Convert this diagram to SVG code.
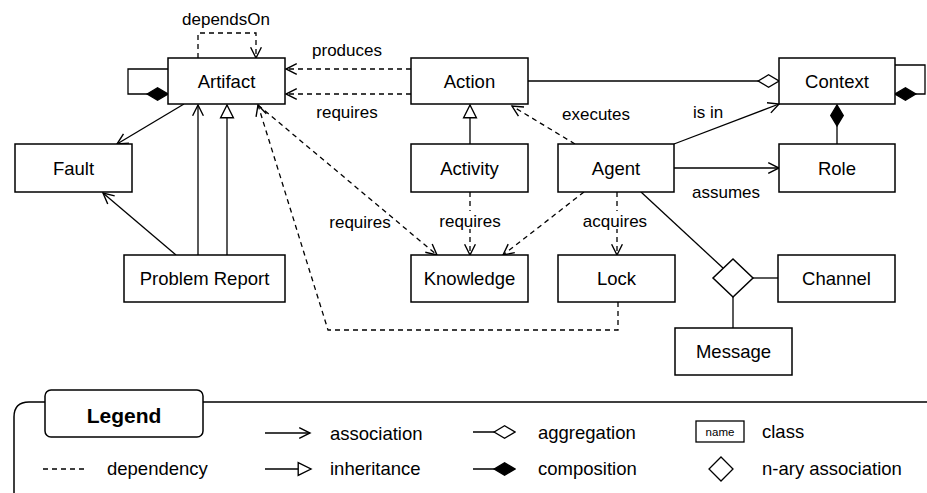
<svg xmlns="http://www.w3.org/2000/svg" width="927" height="493" viewBox="0 0 927 493">
<style>
.box{fill:#fff;stroke:#000;stroke-width:1.5}
.nt{font-family:"Liberation Sans",Arial,sans-serif;font-size:18.5px;text-anchor:middle;fill:#000}
.lb{font-family:"Liberation Sans",Arial,sans-serif;font-size:17px;text-anchor:middle;fill:#000}
.lt{font-family:"Liberation Sans",Arial,sans-serif;font-size:18.5px;fill:#000}
.ln{fill:none;stroke:#000;stroke-width:1.3}
.dl{fill:none;stroke:#000;stroke-width:1.3;stroke-dasharray:5,4}
</style>
<defs>
<marker id="arr" markerUnits="userSpaceOnUse" markerWidth="14" markerHeight="14" viewBox="-1 -1 13 12" refX="10" refY="5" orient="auto"><path d="M0,0 L10,5 L0,10" fill="none" stroke="#000" stroke-width="1.3"/></marker>
<marker id="tri" markerUnits="userSpaceOnUse" markerWidth="16" markerHeight="16" viewBox="-1 -1 15 14" refX="12" refY="6" orient="auto"><path d="M0,0 L12,6 L0,12 z" fill="#fff" stroke="#000" stroke-width="1.3"/></marker>
<marker id="dia" markerUnits="userSpaceOnUse" markerWidth="24" markerHeight="16" viewBox="-1 -1 23 14" refX="21" refY="6" orient="auto"><path d="M1,6 L11,0 L21,6 L11,12 z" fill="#fff" stroke="#000" stroke-width="1.3"/></marker>
<marker id="comp" markerUnits="userSpaceOnUse" markerWidth="24" markerHeight="16" viewBox="-1 -1 23 14" refX="21" refY="6" orient="auto"><path d="M1,6 L11,0 L21,6 L11,12 z" fill="#000" stroke="#000" stroke-width="1.3"/></marker>
</defs>

<g id="connectors">
<!-- Artifact self composition -->
<path class="ln" d="M168,69 L128,69 L128,94 L168,94" marker-end="url(#comp)"/>
<!-- dependsOn -->
<path class="dl" d="M198,58 L198,33 L256,33 L256,58" marker-end="url(#arr)"/>
<text class="lb" x="226" y="25">dependsOn</text>
<!-- Artifact -> Fault -->
<path class="ln" d="M184,104 L117,144" marker-end="url(#arr)"/>
<!-- Problem Report -> Fault -->
<path class="ln" d="M176,255 L103,193" marker-end="url(#arr)"/>
<!-- Problem Report -> Artifact association -->
<path class="ln" d="M198,255 L198,105" marker-end="url(#arr)"/>
<!-- Problem Report inherits Artifact -->
<path class="ln" d="M227,255 L227,105" marker-end="url(#tri)"/>
<!-- Action produces Artifact -->
<path class="dl" d="M411,69 L286,69" marker-end="url(#arr)"/>
<text class="lb" x="347" y="56">produces</text>
<!-- Action requires Artifact -->
<path class="dl" d="M411,94 L286,94" marker-end="url(#arr)"/>
<text class="lb" x="347" y="118">requires</text>
<!-- Artifact requires Knowledge -->
<path class="dl" d="M258,105 L437,255" marker-end="url(#arr)"/>
<text class="lb" x="360" y="228">requires</text>
<!-- Lock -> Artifact -->
<path class="dl" d="M618,302 L618,330 L328,330 L258,105" marker-end="url(#arr)"/>
<!-- Activity inherits Action -->
<path class="ln" d="M470,144 L470,105" marker-end="url(#tri)"/>
<!-- Agent executes Action -->
<path class="dl" d="M575,144 L512,106" marker-end="url(#arr)"/>
<text class="lb" x="596" y="120">executes</text>
<!-- Action aggregated in Context -->
<path class="ln" d="M528,81 L779,81" marker-end="url(#dia)"/>
<!-- Agent is in Context -->
<path class="ln" d="M674,144 L779,104" marker-end="url(#arr)"/>
<text class="lb" x="708" y="118">is in</text>
<!-- Agent assumes Role -->
<path class="ln" d="M674,168 L779,168" marker-end="url(#arr)"/>
<text class="lb" x="726" y="198">assumes</text>
<!-- Role composition Context -->
<path class="ln" d="M837,144 L837,105" marker-end="url(#comp)"/>
<!-- Context self composition -->
<path class="ln" d="M895,65 L925,65 L925,94 L895,94" marker-end="url(#comp)"/>
<!-- Activity requires Knowledge -->
<path class="dl" d="M470,192 L470,255" marker-end="url(#arr)"/>
<rect x="438" y="211" width="64" height="18" fill="#fff"/>
<text class="lb" x="470" y="227">requires</text>
<!-- Agent -> Knowledge -->
<path class="dl" d="M584,192 L503,255" marker-end="url(#arr)"/>
<!-- Agent acquires Lock -->
<path class="dl" d="M617,192 L617,255" marker-end="url(#arr)"/>
<rect x="583" y="211" width="68" height="18" fill="#fff"/>
<text class="lb" x="615" y="227">acquires</text>
<!-- n-ary association -->
<path class="ln" d="M641,192 L723,268"/>
<path class="ln" d="M753,278 L778,278"/>
<path class="ln" d="M733,297 L733,328"/>
</g>

<g id="n-artifact"><rect class="box" x="168" y="58" width="117" height="46"/><text class="nt" x="226.5" y="87.5">Artifact</text></g>
<g id="n-fault"><rect class="box" x="15" y="144" width="117" height="48"/><text class="nt" x="73.5" y="174.5">Fault</text></g>
<g id="n-problemreport"><rect class="box" x="124" y="255" width="161" height="47"/><text class="nt" x="204.5" y="285">Problem Report</text></g>
<g id="n-action"><rect class="box" x="411" y="58" width="117" height="46"/><text class="nt" x="469.5" y="87.5">Action</text></g>
<g id="n-activity"><rect class="box" x="411" y="144" width="117" height="48"/><text class="nt" x="469.5" y="174.5">Activity</text></g>
<g id="n-agent"><rect class="box" x="558" y="144" width="116" height="48"/><text class="nt" x="616" y="174.5">Agent</text></g>
<g id="n-context"><rect class="box" x="779" y="58" width="116" height="46"/><text class="nt" x="837" y="87.5">Context</text></g>
<g id="n-role"><rect class="box" x="779" y="144" width="116" height="48"/><text class="nt" x="837" y="174.5">Role</text></g>
<g id="n-knowledge"><rect class="box" x="411" y="255" width="117" height="47"/><text class="nt" x="469.5" y="285">Knowledge</text></g>
<g id="n-lock"><rect class="box" x="558" y="255" width="117" height="47"/><text class="nt" x="616.5" y="285">Lock</text></g>
<g id="n-channel"><rect class="box" x="778" y="255" width="117" height="47"/><text class="nt" x="836.5" y="285">Channel</text></g>
<g id="n-message"><rect class="box" x="675" y="328" width="117" height="47"/><text class="nt" x="733.5" y="358">Message</text></g>
<g id="n-nary"><path d="M733,259 L753,278 L733,297 L713,278 z" fill="#fff" stroke="#000" stroke-width="1.5"/></g>

<g id="legend">
<path d="M14,493 L14,417 Q14,402 29,402 L927,402" fill="none" stroke="#000" stroke-width="1.5"/>
<rect x="45" y="390" width="158" height="47" rx="6" fill="#fff" stroke="#000" stroke-width="1.5"/>
<text x="124" y="423" font-family="'Liberation Sans',Arial,sans-serif" font-size="21px" font-weight="bold" text-anchor="middle">Legend</text>
<path class="ln" d="M265,433 L310,433" marker-end="url(#arr)"/>
<text class="lt" x="330" y="439.5">association</text>
<path class="dl" d="M43,469 L88,469"/>
<text class="lt" x="107" y="475">dependency</text>
<path class="ln" d="M265,469 L311,469" marker-end="url(#tri)"/>
<text class="lt" x="330" y="475">inheritance</text>
<path class="ln" d="M473,432 L515,432" marker-end="url(#dia)"/>
<text class="lt" x="538" y="438.5">aggregation</text>
<path class="ln" d="M473,469 L515,469" marker-end="url(#comp)"/>
<text class="lt" x="538" y="475">composition</text>
<rect x="696" y="421" width="48" height="21" fill="#fff" stroke="#000" stroke-width="1.3"/>
<text x="720" y="435.5" font-family="'Liberation Sans',Arial,sans-serif" font-size="11.5px" text-anchor="middle">name</text>
<text class="lt" x="762" y="437.5">class</text>
<path d="M721,457 L733,469 L721,481 L709,469 z" fill="#fff" stroke="#000" stroke-width="1.3"/>
<text class="lt" x="762" y="475">n-ary association</text>
</g>
</svg>
